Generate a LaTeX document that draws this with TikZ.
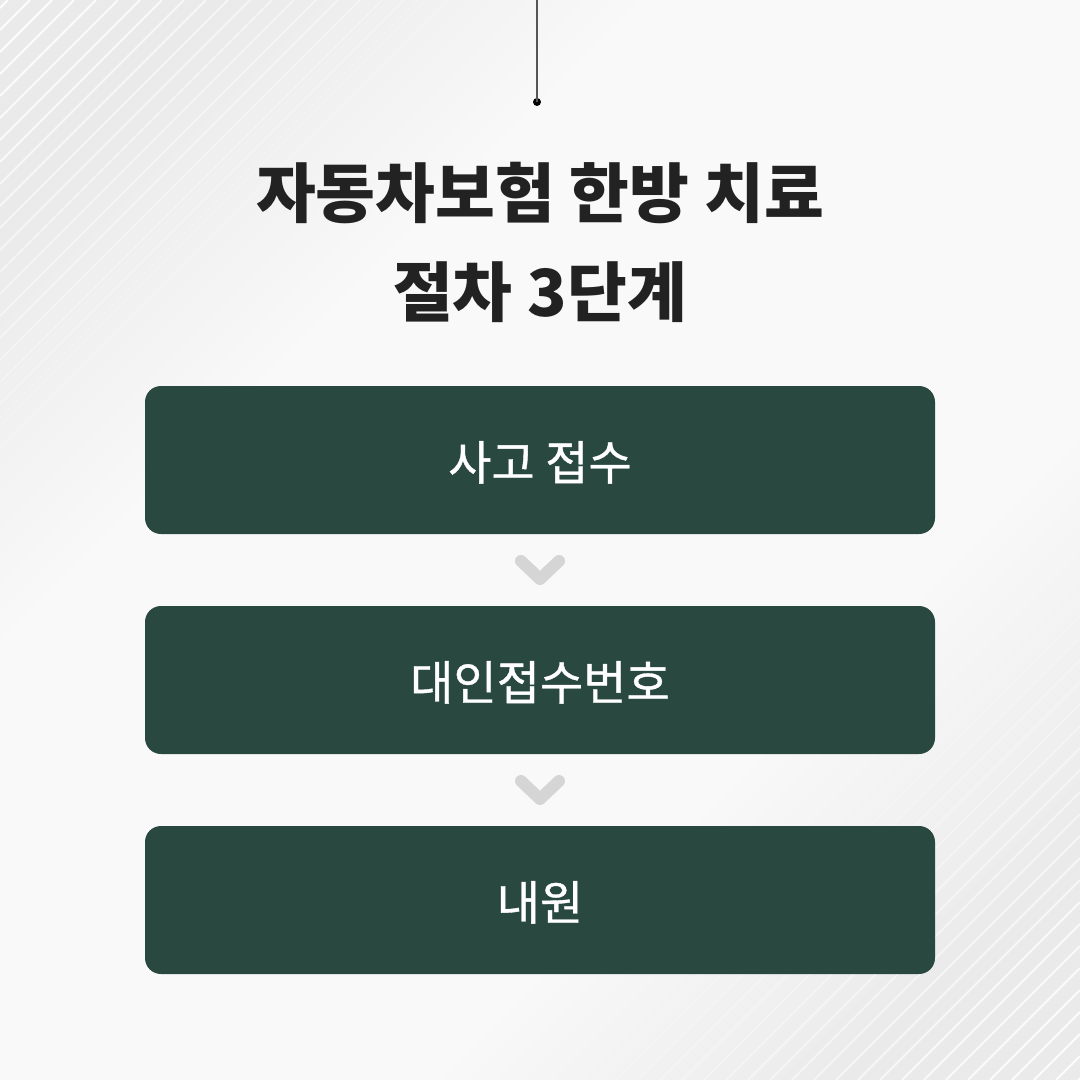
\documentclass[tikz,border=0pt]{standalone}
\usepackage{fontspec}
\newfontfamily\kr{Noto Sans CJK KR}[FakeBold=0.8]
\newfontfamily\krt{Noto Sans CJK KR}
\usetikzlibrary{calc}
\definecolor{boxgreen}{HTML}{29483F}
\definecolor{bggray}{HTML}{EAEAEA}
\definecolor{bglight}{HTML}{F9F9F9}
\definecolor{titlecol}{HTML}{222222}
\definecolor{chevcol}{HTML}{D5D5D5}
\definecolor{linecol}{HTML}{555555}
\pgfdeclareverticalshading{bgband}{100bp}{color(0bp)=(bggray); color(22bp)=(bggray); color(36bp)=(bglight); color(64bp)=(bglight); color(78bp)=(bggray); color(100bp)=(bggray)}
\tikzset{
  stepbox/.style={rectangle, rounded corners=16, fill=boxgreen, text=white,
    minimum width=790, minimum height=148, inner sep=0},
  boxlabel/.style={text=white, inner sep=0, anchor=base,
    font=\kr\fontsize{47}{54}\selectfont},
  titletext/.style={text=titlecol, inner sep=0, anchor=base,
    font=\krt\bfseries\fontsize{65}{75}\selectfont},
  chev/.style={draw=chevcol, line width=12, line cap=round, line join=round},
  stripe/.style={draw=white, line width=1.8},
  pin/.style={circle, fill=black, minimum size=8, inner sep=0},
}
\begin{document}
\begin{tikzpicture}[x=1pt,y=-1pt]
\useasboundingbox (0,0) rectangle (1080,1080);
% background
\shade[shading=bgband, shading angle=45] (0,0) rectangle (1080,1080);
\begin{scope}
  \clip (0,0) rectangle (1080,1080);
  \foreach \c [evaluate=\c as \op using {1-\c/540}] in {8,30,...,500}
    \draw[stripe, opacity=\op] (\c,0) -- (0,\c);
  \foreach \c [evaluate=\c as \op using {1-(2160-\c)/560}] in {1630,1652,...,2160}
    \draw[stripe, opacity=\op] (1080,\c-1080) -- (\c-1080,1080);
\end{scope}
% top pin
\coordinate (top) at (537,0);
\node[pin] (dot) at (537,102) {};
\draw[linecol, line width=1.5] (top) -- (dot.center);
% title
\node[titletext] (t1) at (540,217) {자동차보험 한방 치료};
\node[titletext] (t2) at (540,316) {절차 3단계};
% boxes
\node[stepbox] (b1) at (540,460) {};
\node[stepbox] (b2) at (540,680) {};
\node[stepbox] (b3) at (540,900) {};
\node[boxlabel] (l1) at (540,480) {사고 접수};
\node[boxlabel] (l2) at (540,700) {대인접수번호};
\node[boxlabel] (l3) at (540,920) {내원};
% chevrons
\coordinate (m1) at ($(b1.south)!0.5!(b2.north)$);
\coordinate (m2) at ($(b2.south)!0.5!(b3.north)$);
\draw[chev] ($(m1)+(-19,-9)$) -- ($(m1)+(0,9)$) -- ($(m1)+(19,-9)$);
\draw[chev] ($(m2)+(-19,-9)$) -- ($(m2)+(0,9)$) -- ($(m2)+(19,-9)$);
\end{tikzpicture}
\end{document}
